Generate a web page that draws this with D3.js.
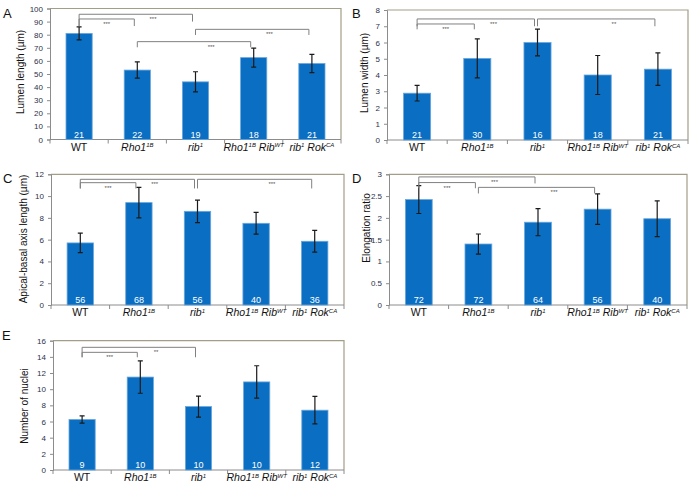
<!DOCTYPE html>
<html><head><meta charset="utf-8">
<script src="https://cdn.jsdelivr.net/npm/d3@7"></script>
<style>
body{margin:0;background:#fff}
svg{display:block}
text{font-family:"Liberation Sans",Arial,sans-serif}
</style>
</head><body>
<svg id="chart" width="695" height="489"></svg>
<script>
// ---------- data ----------
const categories = ["WT", "Rho1^{1B}", "rib^{1}", "Rho1^{1B} Rib^{WT}", "rib^{1} Rok^{CA}"];

const lumenLength    = [81, 53, 44, 62.5, 58];
const lumenLengthErr = [5, 6.2, 7.7, 7.2, 7];
const lumenLengthN   = [21, 22, 19, 18, 21];
const lumenLengthTicks = [0,10,20,30,40,50,60,70,80,90,100];

const lumenWidth    = [2.88, 5.02, 6.0, 4.0, 4.36];
const lumenWidthErr = [0.48, 1.2, 0.82, 1.2, 1.0];
const lumenWidthN   = [21, 30, 16, 18, 21];
const lumenWidthTicks = [0,1,2,3,4,5,6,7,8];

const apicalBasal    = [5.7, 9.4, 8.6, 7.5, 5.85];
const apicalBasalErr = [0.9, 1.4, 1.03, 1.0, 1.0];
const apicalBasalN   = [56, 68, 56, 40, 36];
const apicalBasalTicks = [0,2,4,6,8,10,12];

const elongation    = [2.42, 1.4, 1.9, 2.2, 1.98];
const elongationErr = [0.32, 0.23, 0.31, 0.35, 0.41];
const elongationN   = [72, 72, 64, 56, 40];
const elongationTicks = [0,0.5,1,1.5,2,2.5,3];

const nuclei    = [6.25, 11.5, 7.85, 10.9, 7.4];
const nucleiErr = [0.45, 2.0, 1.3, 2.0, 1.7];
const nucleiN   = [9, 10, 10, 10, 12];
const nucleiTicks = [0,2,4,6,8,10,12,14,16];

// significance brackets: [from, to, line value, left drop value, right drop value, label]
const lumenLengthSig = [[0,1,92,86.6,86.6,"***"],[0,2,95.6,86.6,90,"***"],[2,4,84.1,79.8,79.8,"***"],[1,3,74.7,70.4,70.4,"***"]];
const lumenWidthSig  = [[0,1,7.14,6.81,6.81,"***"],[0,2,7.45,7.0,7.0,"***"],[2,4,7.45,7.0,7.0,"**"]];
const apicalBasalSig = [[0,1,11.23,10.7,10.7,"***"],[0,2,11.54,10.7,10.7,"***"],[2,4,11.54,10.7,10.7,"***"]];
const elongationSig  = [[0,1,2.81,2.68,2.68,"***"],[0,2,2.94,2.75,2.79,"***"],[1,3,2.70,2.56,2.56,"***"]];
const nucleiSig      = [[0,1,14.56,13.95,13.95,"***"],[0,2,15.18,13.95,13.95,"**"]];

// ---------- layout ----------
const panels = [
  {letter:"A", lx:3, ly:18, x0:50, x1:341, y0:8.5, y1:139.5, ticks:lumenLengthTicks, values:lumenLength, err:lumenLengthErr, n:lumenLengthN, sig:lumenLengthSig, title:"Lumen length (µm)", tx:20, ty:72},
  {letter:"B", lx:352, ly:18, x0:387, x1:688, y0:10, y1:140, ticks:lumenWidthTicks, values:lumenWidth, err:lumenWidthErr, n:lumenWidthN, sig:lumenWidthSig, title:"Lumen width (µm)", tx:364, ty:73},
  {letter:"C", lx:3, ly:183, x0:51, x1:344, y0:174.3, y1:305, ticks:apicalBasalTicks, values:apicalBasal, err:apicalBasalErr, n:apicalBasalN, sig:apicalBasalSig, title:"Apical-basal axis length (µm)", tx:23, ty:239},
  {letter:"D", lx:352, ly:183, x0:389, x1:687, y0:174.3, y1:305, ticks:elongationTicks, values:elongation, err:elongationErr, n:elongationN, sig:elongationSig, title:"Elongation ratio", tx:366, ty:228},
  {letter:"E", lx:2, ly:340, x0:53, x1:344, y0:340.7, y1:470, ticks:nucleiTicks, values:nuclei, err:nucleiErr, n:nucleiN, sig:nucleiSig, title:"Number of nuclei", tx:24, ty:406}
];

const svg = d3.select("#chart");
const barColor = "#0a6fc2";
const frameColor = "#a39e88";
const axisColor = "#8c8c8c";

function addLabel(sel, label){
  const italic = label !== "WT";
  const re = /([^\^]+)|\^\{([^}]*)\}/g;
  let m, sup=false;
  while((m = re.exec(label)) !== null){
    if(m[1] !== undefined){
      const t = sel.append("tspan").text(m[1]).attr("font-size", 10.5);
      if(sup){ t.attr("dy", 3.5); sup=false; }
      if(italic) t.attr("font-style","italic");
    } else {
      const t = sel.append("tspan").text(m[2]).attr("font-size", 6).attr("dy", -3.5);
      if(italic) t.attr("font-style","italic");
      sup = true;
    }
  }
}

panels.forEach(p => {
  const g = svg.append("g");
  const x = d3.scaleBand().domain(d3.range(categories.length)).range([p.x0, p.x1])
              .paddingInner(0.55).paddingOuter(0.275);
  const y = d3.scaleLinear().domain([0, d3.max(p.ticks)]).range([p.y1, p.y0]);
  const cx = i => x(i) + x.bandwidth()/2;

  // frame (top and right)
  g.append("path").attr("d", `M${p.x0},${p.y0}H${p.x1}V${p.y1}`)
    .attr("fill","none").attr("stroke",frameColor).attr("stroke-width",1.2);

  // y axis
  const ya = d3.axisLeft(y).tickValues(p.ticks).tickSize(3).tickPadding(4)
               .tickFormat(d3.format(""));
  const yg = g.append("g").attr("transform",`translate(${p.x0},0)`).call(ya);
  yg.select(".domain").attr("stroke",axisColor);
  yg.selectAll(".tick line").attr("stroke",axisColor);
  yg.selectAll(".tick text").attr("font-size",8).attr("fill","#2d3148")
    .attr("font-family","'Liberation Sans',Arial,sans-serif");

  // x axis
  g.append("line").attr("x1",p.x0).attr("x2",p.x1).attr("y1",p.y1).attr("y2",p.y1)
    .attr("stroke",axisColor).attr("stroke-width",1);
  const bounds = d3.range(categories.length+1).map(i => p.x0 + i*x.step());
  g.selectAll(".xt").data(bounds).join("line")
    .attr("x1",d=>d).attr("x2",d=>d).attr("y1",p.y1).attr("y2",p.y1+4)
    .attr("stroke",axisColor);
  categories.forEach((c,i) => {
    const t = g.append("text").attr("x", cx(i)).attr("y", p.y1+11)
      .attr("text-anchor","middle").attr("fill","#111");
    addLabel(t, c);
  });

  // bars
  g.selectAll(".bar").data(p.values).join("rect")
    .attr("x",(d,i)=>x(i)).attr("width",x.bandwidth())
    .attr("y",d=>y(d)).attr("height",d=>p.y1-y(d))
    .attr("fill",barColor).attr("stroke","#6aa6dc").attr("stroke-width",0.8);

  // error bars + n
  p.values.forEach((v,i) => {
    const c = cx(i);
    const hi = y(v+p.err[i]), lo = y(v-p.err[i]);
    g.append("path").attr("d",`M${c},${hi}V${lo}M${c-2.5},${hi}H${c+2.5}M${c-2.5},${lo}H${c+2.5}`)
      .attr("stroke","#1a1a1a").attr("stroke-width",1.2).attr("fill","none");
    g.append("text").attr("x",c).attr("y",p.y1-2).attr("text-anchor","middle")
      .attr("font-size",9).attr("fill","#fff").text(p.n[i]);
  });

  // significance brackets
  p.sig.forEach(s => {
    const xa = cx(s[0]), xb = cx(s[1]) - 3;
    const yl = y(s[2]), ya2 = y(s[3]), yb = y(s[4]);
    g.append("path").attr("d",`M${xa},${ya2}V${yl}H${xb}V${yb}`)
      .attr("fill","none").attr("stroke","#808080").attr("stroke-width",1);
    const lx = (s[1]-s[0] === 2) ? cx(s[0]+1) + 0.27*x.step() : (xa+xb)/2;
    g.append("text").attr("x",lx).attr("y",yl+7).attr("text-anchor","middle")
      .attr("font-size",6).attr("fill","#555").text(s[5]);
  });

  // y title
  g.append("text").attr("transform",`translate(${p.tx},${p.ty}) rotate(-90)`)
    .attr("text-anchor","middle").attr("dominant-baseline","central")
    .attr("font-size",10).attr("fill","#111").text(p.title);

  // panel letter
  svg.append("text").attr("x",p.lx).attr("y",p.ly).attr("font-size",13)
    .attr("fill","#111").text(p.letter);
});
</script>
</body></html>
